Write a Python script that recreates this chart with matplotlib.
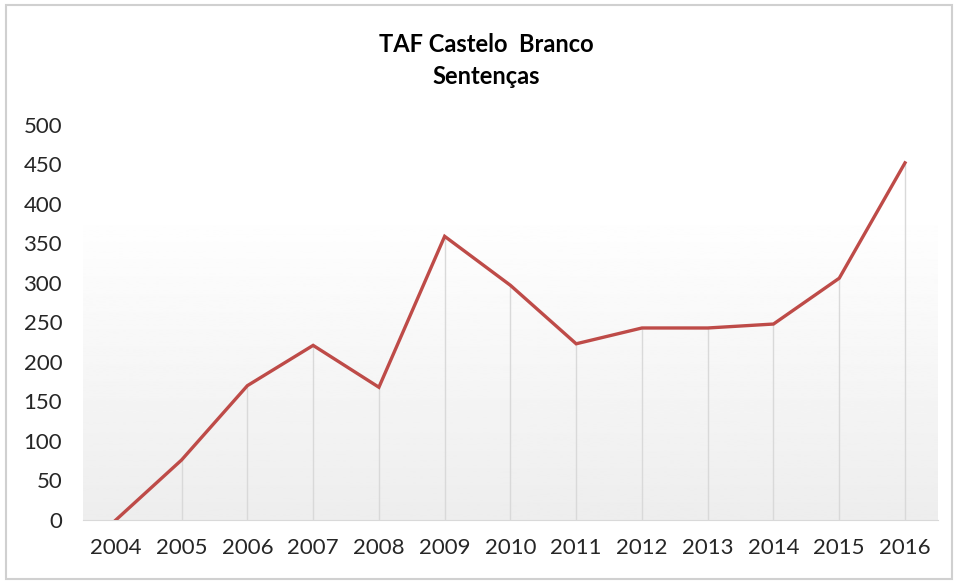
import numpy as np
import matplotlib.pyplot as plt
from matplotlib.patches import Rectangle

# dados
anos = ['2004', '2005', '2006', '2007', '2008', '2009', '2010',
        '2011', '2012', '2013', '2014', '2015', '2016']
sentencas = [0, 76, 170, 221, 168, 359, 297, 223, 243, 243, 248, 306, 452]

plt.rcParams['font.family'] = ['Lato', 'DejaVu Sans']

fig = plt.figure(figsize=(9.58, 5.81), dpi=100)
ax = fig.add_axes([0.0866, 0.105, 0.8924, 0.68])

x = np.arange(len(anos))

# fundo em gradiente
grad = np.linspace(0.93, 1.0, 256).reshape(-1, 1)
ax.imshow(grad, cmap='gray', vmin=0, vmax=1, origin='lower', aspect='auto',
          extent=(-0.5, len(anos) - 0.5, 0, 395), zorder=0)

# linhas verticais
ax.vlines(x, 0, sentencas, color='#d9d9d9', lw=1, zorder=1)

ax.plot(x, sentencas, color='#be4b48', lw=2.4, zorder=3, solid_joinstyle='miter')

ax.set_xlim(-0.5, len(anos) - 0.5)
ax.set_ylim(0, 500)
ax.set_yticks(range(0, 501, 50))
ax.set_xticks(x)
ax.set_xticklabels(anos)
ax.tick_params(axis='both', length=0, labelsize=16, colors='#262626')
ax.tick_params(axis='x', pad=13)
ax.tick_params(axis='y', pad=15)
for s in ['top', 'right', 'left']:
    ax.spines[s].set_visible(False)
ax.spines['bottom'].set_color('#d9d9d9')

fig.text(0.508, 0.923, 'TAF Castelo  Branco', ha='center', va='center',
         fontsize=17, fontweight='bold')
fig.text(0.508, 0.869, 'Sentenças', ha='center', va='center',
         fontsize=17, fontweight='bold')

# moldura
fig.patches.append(Rectangle((0.006, 0.004), 0.988, 0.987, transform=fig.transFigure,
                             fill=False, edgecolor='#d0d0d0', lw=1.5))

fig.savefig('out.png', dpi=100)
